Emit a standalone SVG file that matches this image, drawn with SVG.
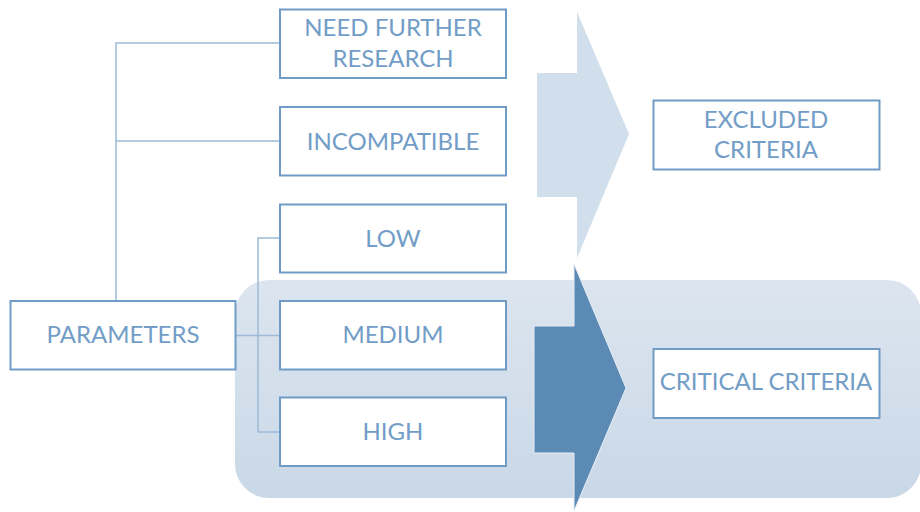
<svg xmlns="http://www.w3.org/2000/svg" width="920" height="512" viewBox="0 0 920 512">
<defs>
<linearGradient id="pg" x1="0" y1="0" x2="0" y2="1">
<stop offset="0" stop-color="#dce5ef"/>
<stop offset="1" stop-color="#c9d8e7"/>
</linearGradient>
</defs>
<style>
.box{fill:#ffffff;stroke:#6f9bc6;stroke-width:2}
.t{font-family:Lato,"Liberation Sans",sans-serif;font-size:24px;fill:#729dc7;text-anchor:middle}
.ln{fill:none;stroke:#9dbad8;stroke-width:1.5}
</style>
<rect x="235" y="280" width="686" height="218" rx="34" fill="url(#pg)"/>
<polygon points="537,73 577,73 577,12 629,134 577,258 577,197 537,197" fill="#d0dfeb"/>
<polygon points="534,326 574,326 574,264 626,388 574,511 574,453 534,453" fill="#5b8ab5" stroke="#e8eef5" stroke-width="1"/>
<g id="connectors">
<polyline class="ln" points="280,43 116,43 116,301"/>
<line class="ln" x1="116" y1="141" x2="280" y2="141"/>
<polyline class="ln" points="280,238 258,238 258,432 280,432"/>
<line class="ln" x1="236" y1="335.5" x2="280" y2="335.5" stroke="#6f9bc6"/>
</g>
<g id="need"><rect class="box" x="280" y="9.5" width="226" height="68.5"/><text class="t" x="393" y="36">NEED FURTHER</text><text class="t" x="393" y="67">RESEARCH</text></g>
<g id="incompatible"><rect class="box" x="280" y="107" width="226" height="68.5"/><text class="t" x="393" y="149.5">INCOMPATIBLE</text></g>
<g id="low"><rect class="box" x="280" y="204.5" width="226" height="68"/><text class="t" x="393" y="247">LOW</text></g>
<g id="medium"><rect class="box" x="280" y="301" width="226" height="68.5"/><text class="t" x="393" y="343">MEDIUM</text></g>
<g id="high"><rect class="box" x="280" y="397.5" width="226" height="68.5"/><text class="t" x="393" y="439.5">HIGH</text></g>
<g id="parameters"><rect class="box" x="10.5" y="301" width="225" height="68.5"/><text class="t" x="123" y="343">PARAMETERS</text></g>
<g id="excluded"><rect class="box" x="653.5" y="100.5" width="226" height="69"/><text class="t" x="766" y="127.5">EXCLUDED</text><text class="t" x="766" y="158">CRITERIA</text></g>
<g id="critical"><rect class="box" x="653.5" y="349" width="226" height="69"/><text class="t" x="766" y="390">CRITICAL CRITERIA</text></g>
</svg>
